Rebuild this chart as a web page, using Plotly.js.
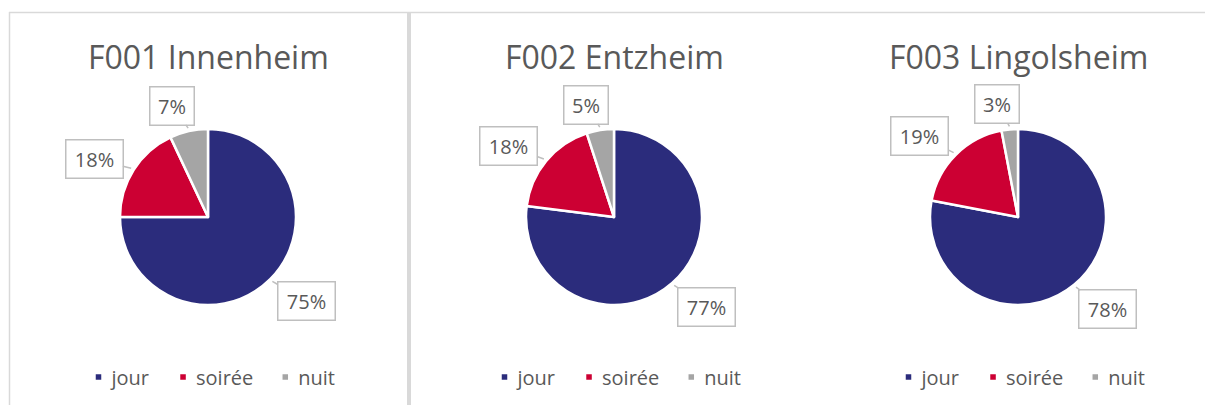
<!DOCTYPE html>
<html>
<head>
<meta charset="utf-8">
<script src="https://cdn.plot.ly/plotly-3.0.1.min.js"></script>
<style>
  html, body { margin: 0; padding: 0; background: #ffffff; }
  #chart { width: 1205px; height: 405px; }
</style>
</head>
<body>
<div id="chart"></div>
<script>
// ---- data ----
const sites = ['F001 Innenheim', 'F002 Entzheim', 'F003 Lingolsheim'];
const categories = ['jour', 'soirée', 'nuit'];
const jour = [75, 77, 78];
const soiree = [18, 18, 19];
const nuit = [7, 5, 3];

// ---- styling / layout ----
const colors = ['#2B2C7C', '#CC0033', '#A5A5A5'];
const W = 1205, H = 405;
const centersX = [208, 614, 1018];
const centerY = 217;
const R = 88;
const textColor = '#595959';
const FONT = 'Open Sans, Noto Sans, sans-serif';
const LABEL_ROT = -5 * Math.PI / 180;

const px = x => x / W;
const py = y => 1 - y / H;

const traces = [];
const annotations = [];
const legendKeys = ['legend', 'legend2', 'legend3'];

sites.forEach((site, i) => {
  const vals = [jour[i], soiree[i], nuit[i]];
  const cx = centersX[i];
  traces.push({
    type: 'pie',
    name: site,
    labels: categories,
    values: vals,
    sort: false,
    direction: 'clockwise',
    rotation: 0,
    textinfo: 'none',
    hoverinfo: 'skip',
    marker: { colors: colors, line: { color: '#ffffff', width: 2.5 } },
    domain: { x: [px(cx - R), px(cx + R)], y: [py(centerY + R), py(centerY - R)] },
    legend: legendKeys[i],
    legendgroup: 'g' + i,
    showlegend: true
  });

  // title
  annotations.push({
    text: site, xref: 'paper', yref: 'paper', x: px(cx), y: py(57),
    xanchor: 'center', yanchor: 'middle', showarrow: false,
    font: { family: FONT, size: 32, color: textColor }
  });

  // callout labels derived from slice mid-angles
  const total = vals.reduce((a, b) => a + b, 0);
  let cum = 0;
  vals.forEach((v, k) => {
    const mid = (cum + v / 2) / total * 2 * Math.PI;
    cum += v;
    const ang = mid + LABEL_ROT;
    const ux = Math.sin(ang), uy = -Math.cos(ang);
    const mx = Math.sin(mid), my = -Math.cos(mid);
    const txt = Math.round(v / total * 100) + '%';
    const bw = txt.length > 2 ? 58 : 45, bh = 37;
    const d = 6 + Math.abs(ux) * bw / 2 + Math.abs(uy) * bh / 2;
    const lx = cx + (R + d) * ux, ly = centerY + (R + d) * uy + 1.5;
    const tx = cx + (R + 3) * mx, ty = centerY + (R + 3) * my;
    annotations.push({
      text: txt, xref: 'paper', yref: 'paper', x: px(tx), y: py(ty),
      ax: lx - tx, ay: ly - ty, axref: 'pixel', ayref: 'pixel',
      showarrow: true, arrowhead: 0, arrowwidth: 1.5, arrowcolor: '#BFBFBF',
      standoff: 0, startstandoff: 0,
      bgcolor: '#ffffff', bordercolor: '#BFBFBF', borderwidth: 1.5, borderpad: 3,
      width: bw - 8, height: bh - 6,
      font: { family: FONT, size: 20, color: textColor }
    });
  });
});

const layout = {
  width: W, height: H,
  margin: { l: 0, r: 0, t: 0, b: 0 },
  paper_bgcolor: '#ffffff',
  plot_bgcolor: '#ffffff',
  font: { family: FONT, color: textColor },
  annotations: annotations,
  shapes: [
    { type: 'line', xref: 'paper', yref: 'paper', x0: px(9), x1: 1, y0: py(12.5), y1: py(12.5),
      line: { color: '#D9D9D9', width: 1.5 } },
    { type: 'line', xref: 'paper', yref: 'paper', x0: px(9.5), x1: px(9.5), y0: py(12), y1: 0,
      line: { color: '#D9D9D9', width: 1.5 } },
    { type: 'rect', xref: 'paper', yref: 'paper', x0: px(407), x1: px(411), y0: py(12), y1: 0,
      fillcolor: '#D9D9D9', line: { width: 0 } }
  ]
};

legendKeys.forEach((key, i) => {
  layout[key] = {
    orientation: 'h',
    x: px(centersX[i] - 2), xanchor: 'center',
    y: py(377), yanchor: 'middle',
    bgcolor: 'rgba(0,0,0,0)',
    font: { family: FONT, size: 20, color: textColor },
    itemclick: false, itemdoubleclick: false,
    traceorder: 'normal'
  };
});

Plotly.newPlot('chart', traces, layout, { displayModeBar: false, staticPlot: true }).then(gd => {
  document.querySelectorAll('path.legendpie').forEach(p => {
    p.setAttribute('transform', 'translate(27,0) scale(0.58)');
  });
});
</script>
</body>
</html>
